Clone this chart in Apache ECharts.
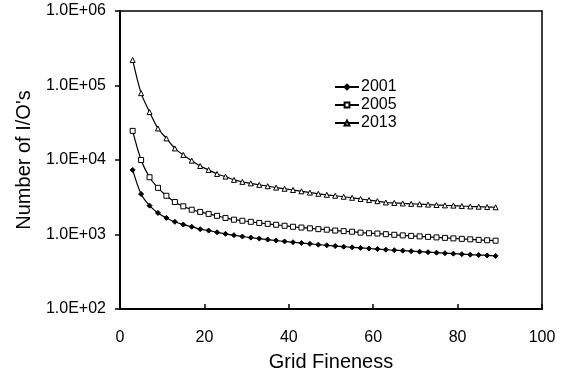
<!DOCTYPE html>
<html>
<head>
<meta charset="utf-8">
<script src="https://cdn.jsdelivr.net/npm/echarts@6/dist/echarts.min.js"></script>
<style>
  html, body { margin: 0; padding: 0; background: #fff; }
  #main { width: 561px; height: 373px; }
</style>
</head>
<body>
<div id="main"></div>
<script>
var gridFineness = [3, 5, 7, 9, 11, 13, 15, 17, 19, 21, 23, 25, 27, 29, 31, 33, 35, 37, 39, 41, 43, 45,
  47, 49, 51, 53, 55, 57, 59, 61, 63, 65, 67, 69, 71, 73, 75, 77, 79, 81, 83, 85, 87, 89];

var io2001 = [7360, 3490, 2440, 1950, 1670, 1480, 1360, 1270, 1180, 1130, 1070, 1020, 979, 940, 909, 882,
  855, 830, 807, 787, 768, 750, 731, 716, 700, 686, 673, 661, 649, 637, 625, 615, 607, 597, 588, 579,
  570, 561, 553, 545, 536, 530, 524, 516];

var io2005 = [24600, 10000, 5870, 4230, 3310, 2730, 2390, 2150, 2010, 1890, 1780, 1670, 1580, 1530, 1480,
  1430, 1390, 1350, 1310, 1270, 1240, 1210, 1180, 1160, 1130, 1110, 1090, 1060, 1040, 1030, 1010, 991,
  973, 958, 944, 929, 914, 901, 887, 874, 861, 847, 837, 826];

var io2013 = [220000, 78900, 44000, 26500, 19500, 14300, 11700, 9800, 8300, 7360, 6500, 5990, 5410, 5090,
  4860, 4640, 4450, 4260, 4110, 3960, 3800, 3650, 3520, 3410, 3310, 3210, 3110, 3000, 2900, 2800, 2690,
  2650, 2610, 2580, 2550, 2520, 2490, 2460, 2440, 2410, 2380, 2360, 2340, 2320];

var yTickLabels = ['1.0E+02', '1.0E+03', '1.0E+04', '1.0E+05', '1.0E+06'];

var font = 'Liberation Sans, Arial, sans-serif';

function pairs(ys) {
  return gridFineness.map(function (x, i) { return [x, ys[i]]; });
}

var chart = echarts.init(document.getElementById('main'));

function lineSeries(name, ys, symbol, size, fill) {
  return {
    name: name,
    type: 'line',
    data: pairs(ys),
    smooth: 0.3,
    symbol: symbol,
    symbolSize: size,
    showAllSymbol: true,
    lineStyle: { color: '#000', width: 1.2 },
    itemStyle: { color: fill, borderColor: '#000', borderWidth: 1 },
    z: 3
  };
}

var option = {
  backgroundColor: '#fff',
  animation: false,
  textStyle: { fontFamily: font, color: '#000' },
  grid: {
    left: 120, right: 19, top: 11, bottom: 64,
    outerBoundsMode: 'none',
    containLabel: false,
    show: true, borderColor: '#000', borderWidth: 1.5
  },
  legend: {
    orient: 'vertical',
    left: 329, top: 74,
    itemWidth: 24, itemHeight: 6, itemGap: 2,
    textStyle: { fontFamily: font, fontSize: 16, color: '#000', padding: [0, 0, 0, -3] },
    data: ['2001', '2005', '2013']
  },
  xAxis: {
    type: 'value',
    min: 0, max: 100, interval: 20,
    name: 'Grid Fineness',
    nameLocation: 'middle',
    nameGap: 43,
    nameTextStyle: { fontFamily: font, fontSize: 20, color: '#000' },
    axisLine: { lineStyle: { color: '#000', width: 2 } },
    axisTick: { inside: true, length: 5, lineStyle: { color: '#000', width: 1.5 } },
    axisLabel: { fontFamily: font, fontSize: 16, color: '#000', margin: 21 },
    splitLine: { show: false }
  },
  yAxis: {
    type: 'log',
    logBase: 10,
    min: 100, max: 1000000,
    name: 'Number of I/O\'s',
    nameLocation: 'middle',
    nameGap: 86,
    nameTextStyle: { fontFamily: font, fontSize: 20, color: '#000' },
    axisLine: { lineStyle: { color: '#000', width: 2 } },
    axisTick: { inside: false, length: 5, lineStyle: { color: '#000', width: 1.5 } },
    axisLabel: {
      fontFamily: font, fontSize: 16, color: '#000', margin: 14,
      formatter: function (v) {
        var k = Math.round(Math.log10(v)) - 2;
        return yTickLabels[k] || '';
      }
    },
    splitLine: { show: false }
  },
  series: [
    lineSeries('2001', io2001, 'diamond', 5, '#000'),
    lineSeries('2005', io2005, 'rect', 5, '#fff'),
    lineSeries('2013', io2013, 'triangle', 5, '#fff')
  ]
};

chart.setOption(option);
</script>
</body>
</html>
